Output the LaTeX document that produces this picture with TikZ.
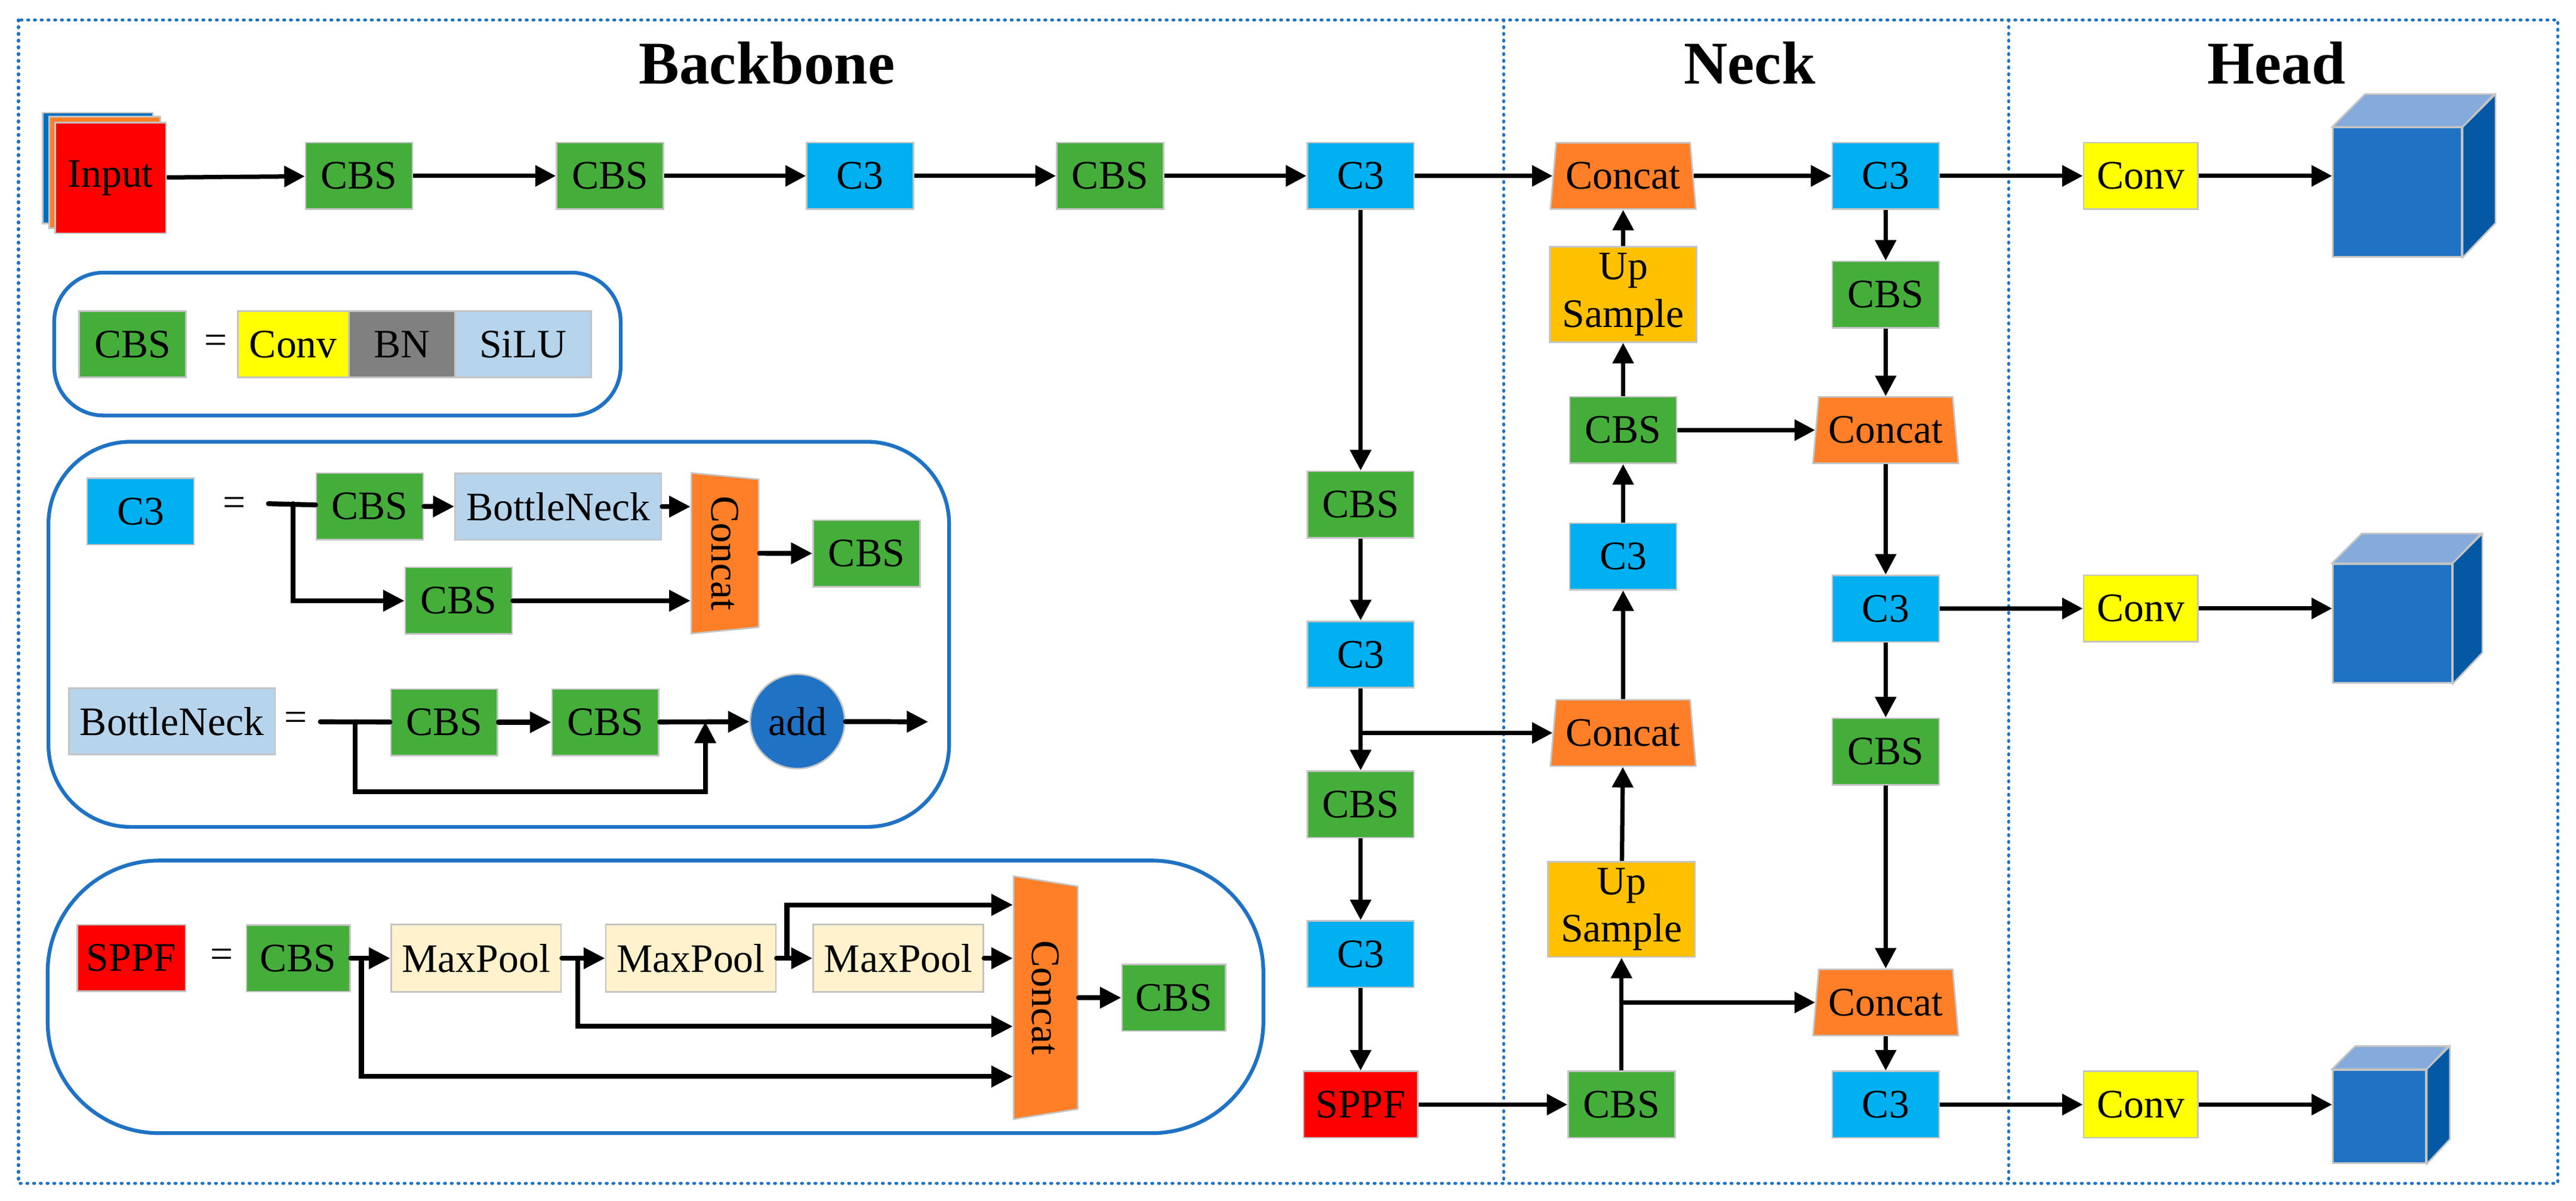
\documentclass[tikz,border=0pt]{standalone}
\usepackage{fontspec}
\setmainfont{Liberation Serif}
\usetikzlibrary{arrows.meta,shapes.geometric}
\definecolor{cbsgreen}{HTML}{45AE3B}
\definecolor{cthreeblue}{HTML}{00B0F0}
\definecolor{catorange}{HTML}{FE7F27}
\definecolor{upyellow}{HTML}{FFC000}
\definecolor{convyellow}{HTML}{FFFF00}
\definecolor{bngray}{HTML}{808080}
\definecolor{lightblue}{HTML}{B6D4EC}
\definecolor{poolcream}{HTML}{FFF2CC}
\definecolor{framblue}{HTML}{1F72C4}
\definecolor{addblue}{HTML}{1F72C4}
\definecolor{inblue}{HTML}{0070C0}
\definecolor{cubetopc}{HTML}{84ABDB}
\definecolor{cubesidec}{HTML}{0559A4}
\definecolor{boxgray}{HTML}{C4C4C4}
\tikzset{
  box/.style={draw=boxgray, line width=0.55pt, inner sep=0pt, minimum width=13mm, minimum height=8.1mm},
  cbs/.style={box, fill=cbsgreen},
  cthree/.style={box, fill=cthreeblue},
  conv/.style={box, fill=convyellow, minimum width=13.9mm},
  upsamp/.style={box, fill=upyellow, minimum width=17.9mm, minimum height=11.6mm, align=center},
  concat/.style={box, trapezium, fill=catorange, trapezium left angle=78, trapezium right angle=78,
    trapezium stretches body, minimum width=17.7mm, minimum height=8.08mm},
  vconcat/.style={box, trapezium, fill=catorange, rotate=-90, trapezium stretches body},
  arr/.style={-{Triangle[length=2.5mm,width=2.5mm]}, line width=1.5pt},
  legline/.style={line width=1.7pt, line cap=round},
  legarr/.style={legline, -{Triangle[length=2.6mm,width=2.5mm]}},
  legframe/.style={draw=framblue, line width=1.3pt},
  sect/.style={draw=framblue, line width=1.1pt, line cap=round, dash pattern=on 0.1mm off 0.72mm},
  headtitle/.style={font=\fontsize{21}{24}\selectfont\bfseries}
}
\begin{document}
\begin{tikzpicture}[x=0.2mm, y=-0.2mm, font=\fontsize{14}{16.5}\selectfont]
  \useasboundingbox (0,0) rectangle (1568,731);
  \draw[sect] (11.3,12.2) rectangle (1557,720.5);
  \draw[sect] (915.2,12.2) -- (915.2,720.5) (1222.7,12.2) -- (1222.7,720.5);
  \node[headtitle] (tback) at (466.8,38.5) {Backbone};
  \node[headtitle] (tneck) at (1065,38.5) {Neck};
  \node[headtitle] (thead) at (1385.7,38.5) {Head};

  % backbone
  \filldraw[fill=inblue, draw=boxgray, line width=0.55pt] (26,68.6) rectangle (93,136);
  \filldraw[fill=catorange, draw=boxgray, line width=0.55pt] (30,71) rectangle (97.6,139);
  \node[box, fill=red, minimum size=13.5mm] (input) at (67.3,108.3) {Input};
  \node[cbs] (cbsa) at (218.5,107.1) {CBS};
  \node[cbs] (cbsb) at (371.3,107.1) {CBS};
  \node[cthree] (c3a) at (523.5,107.1) {C3};
  \node[cbs] (cbsc) at (675.7,107.1) {CBS};
  \node[cthree] (c3b) at (828.2,107.1) {C3};
  \node[cbs] (cbsd) at (828.2,307.2) {CBS};
  \node[cthree] (c3c) at (828.2,398.5) {C3};
  \node[cbs] (cbse) at (828.2,489.8) {CBS};
  \node[cthree] (c3d) at (828.2,581) {C3};
  \node[box, fill=red, minimum width=13.9mm] (sppf) at (828.2,672.6) {SPPF};
  \draw[arr] (input) edge (cbsa) (cbsa) edge (cbsb) (cbsb) edge (c3a) (c3a) edge (cbsc) (cbsc) edge (c3b)
             (c3b) edge (cbsd) (cbsd) edge (c3c) (c3c) edge (cbse) (cbse) edge (c3d) (c3d) edge (sppf);

  % neck
  \node[concat] (cata) at (988,107.1) {Concat};
  \node[upsamp] (upa) at (988,179.3) {Up\\Sample};
  \node[cbs] (cbsn) at (988,261.9) {CBS};
  \node[cthree] (c3n) at (988,338.8) {C3};
  \node[concat] (catb) at (988,446.3) {Concat};
  \node[upsamp] (upb) at (987,553.7) {Up\\Sample};
  \node[cbs] (cbsm) at (987,672.6) {CBS};
  \node[cthree] (c3r) at (1147.8,107.1) {C3};
  \node[cbs] (cbsr) at (1147.8,179.4) {CBS};
  \node[concat] (catc) at (1147.8,261.9) {Concat};
  \node[cthree] (c3s) at (1147.8,370.6) {C3};
  \node[cbs] (cbss) at (1147.8,457.6) {CBS};
  \node[concat] (catd) at (1147.8,610.4) {Concat};
  \node[cthree] (c3t) at (1147.8,672.6) {C3};
  \draw[arr] (c3b) edge (cata) (cata) edge (c3r) (upa) edge (cata) (cbsn) edge (upa) (cbsn) edge (catc)
             (c3n) edge (cbsn) (catb) edge (c3n) (upb) edge (catb) (cbsm) edge (upb) (sppf) edge (cbsm)
             (c3r) edge (cbsr) (cbsr) edge (catc) (catc) edge (c3s) (c3s) edge (cbss) (cbss) edge (catd)
             (catd) edge (c3t);
  \draw[arr] (c3c |- catb) -- (catb);
  \draw[arr] (cbsm |- catd) -- (catd);

  % head
  \node[conv] (conva) at (1303,107.1) {Conv};
  \node[conv] (convb) at (1303,370.5) {Conv};
  \node[conv] (convc) at (1303,672.6) {Conv};
  \foreach \cn/\cy/\cs/\cd in {a/117.05/78.5/20, b/379.65/72.5/18, c/679.85/56.7/14} {
    \node[box, fill=addblue, minimum size=\cs*0.2mm] (cube\cn) at (1420+\cs/2,\cy) {};
    \filldraw[fill=cubetopc, draw=boxgray, line width=0.55pt] (cube\cn.north west) -- ++(\cd,-\cd) -- ++(\cs,0) -- (cube\cn.north east) -- cycle;
    \filldraw[fill=cubesidec, draw=boxgray, line width=0.55pt] (cube\cn.north east) -- ++(\cd,-\cd) -- ++(0,\cs) -- (cube\cn.south east) -- cycle;
  }
  \draw[arr] (c3r) edge (conva) (c3s) edge (convb) (c3t) edge (convc)
             (conva) edge (conva -| cubea.west) (convb) edge (convb -| cubeb.west) (convc) edge (convc -| cubec.west);

  % CBS legend
  \draw[legframe, rounded corners=6mm] (33,166) rectangle (377.8,253);
  \node[cbs] (lcbs) at (80.7,209.6) {CBS};
  \node (leqa) at (131.3,209.6) {=};
  \node[box, fill=convyellow, minimum width=13.5mm] (lconv) at (178.5,209.6) {Conv};
  \node[box, fill=bngray, minimum width=12.9mm] (lbnorm) at (244.6,209.6) {BN};
  \node[box, fill=lightblue, minimum width=16.6mm] (lsilu) at (318.4,209.6) {SiLU};

  % C3 legend
  \draw[legframe, rounded corners=10mm] (29.5,269) rectangle (577.7,503.5);
  \node[cthree] (lcthree) at (85.6,311.4) {C3};
  \node (leqb) at (142.5,308.5) {=};
  \coordinate (lcin) at (163.4,306.7);
  \coordinate (lcsplit) at (178.4,306.7);
  \node[cbs] (lcbsa) at (225.1,308.3) {CBS};
  \node[box, fill=lightblue, minimum width=25.1mm] (lbneck) at (339.8,308.5) {BottleNeck};
  \node[cbs] (lcbsb) at (279.2,365.8) {CBS};
  \node[vconcat, minimum width=19.56mm, minimum height=8.2mm, trapezium left angle=76.8, trapezium right angle=76.8] (lcat) at (441.3,336.9) {Concat};
  \node[cbs] (lcbsc) at (527.5,337) {CBS};
  \draw[legline] (lcin) -- (lcbsa);
  \draw[legarr] (lcsplit) |- (lcbsb);
  \draw[legarr] (lcbsa) -- (lbneck);
  \draw[legarr] (lbneck) -- (lbneck -| lcat.south);
  \draw[legarr] (lcbsb) -- (lcbsb -| lcat.south);
  \draw[legarr] (lcat.north) -- (lcbsc);

  % BottleNeck legend
  \node[box, fill=lightblue, minimum width=25.1mm] (lbneckb) at (104.7,439.2) {BottleNeck};
  \node (leqc) at (180,439.2) {=};
  \coordinate (lbin) at (195,439.5);
  \coordinate (lbsplit) at (216.2,439.5);
  \coordinate (lbjoin) at (429.3,439.5);
  \coordinate (lbout) at (565,439.5);
  \node[cbs] (lcbsd) at (270.4,439.8) {CBS};
  \node[cbs] (lcbse) at (368.5,439.8) {CBS};
  \node[circle, draw=boxgray, line width=0.55pt, fill=addblue, minimum size=11.5mm, inner sep=0pt] (ladd) at (485.4,439.3) {add};
  \draw[legline] (lbin) -- (lcbsd);
  \draw[legarr] (lcbsd) -- (lcbse);
  \draw[legarr] (lcbse) -- (ladd);
  \draw[legarr] (lbsplit) -- ++(0,42.5) -| (lbjoin);
  \draw[legarr] (ladd) -- (lbout);

  % SPPF legend
  \draw[legframe, rounded corners=13.6mm] (29,524) rectangle (769,690);
  \node[box, fill=red, minimum width=13.2mm] (lsppf) at (80,583.3) {SPPF};
  \node (leqd) at (135,583.5) {=};
  \node[cbs, minimum width=12.6mm] (lcbsf) at (181.5,583.5) {CBS};
  \node[box, fill=poolcream, minimum width=20.7mm, minimum height=8.2mm] (lpoola) at (289.8,583.5) {MaxPool};
  \node[box, fill=poolcream, minimum width=20.7mm, minimum height=8.2mm] (lpoolb) at (420.5,583.5) {MaxPool};
  \node[box, fill=poolcream, minimum width=20.7mm, minimum height=8.2mm] (lpoolc) at (546.8,583.5) {MaxPool};
  \node[vconcat, minimum width=29.6mm, minimum height=7.8mm, trapezium left angle=69.4, trapezium right angle=69.4] (lcatb) at (636.5,607.5) {Concat};
  \node[cbs, minimum width=12.6mm] (lcbsg) at (714.5,607.5) {CBS};
  \coordinate (lsa) at (220,583.5);
  \coordinate (lsa2) at (220,655.5);
  \coordinate (lsb) at (351.7,583.5);
  \coordinate (lsb2) at (351.7,625);
  \coordinate (lsc) at (479,583.5);
  \coordinate (lsc2) at (479,551);
  \draw[legarr] (lcbsf) -- (lpoola);
  \draw[legarr] (lpoola) -- (lpoolb);
  \draw[legarr] (lpoolb) -- (lpoolc);
  \draw[legarr] (lpoolc) -- (lpoolc -| lcatb.south);
  \draw[legarr] (lcatb.north) -- (lcbsg);
  \draw[legarr] (lsa) -- (lsa2) -- (lsa2 -| lcatb.south);
  \draw[legarr] (lsb) -- (lsb2) -- (lsb2 -| lcatb.south);
  \draw[legarr] (lsc) -- (lsc2) -- (lsc2 -| lcatb.south);
\end{tikzpicture}
\end{document}
